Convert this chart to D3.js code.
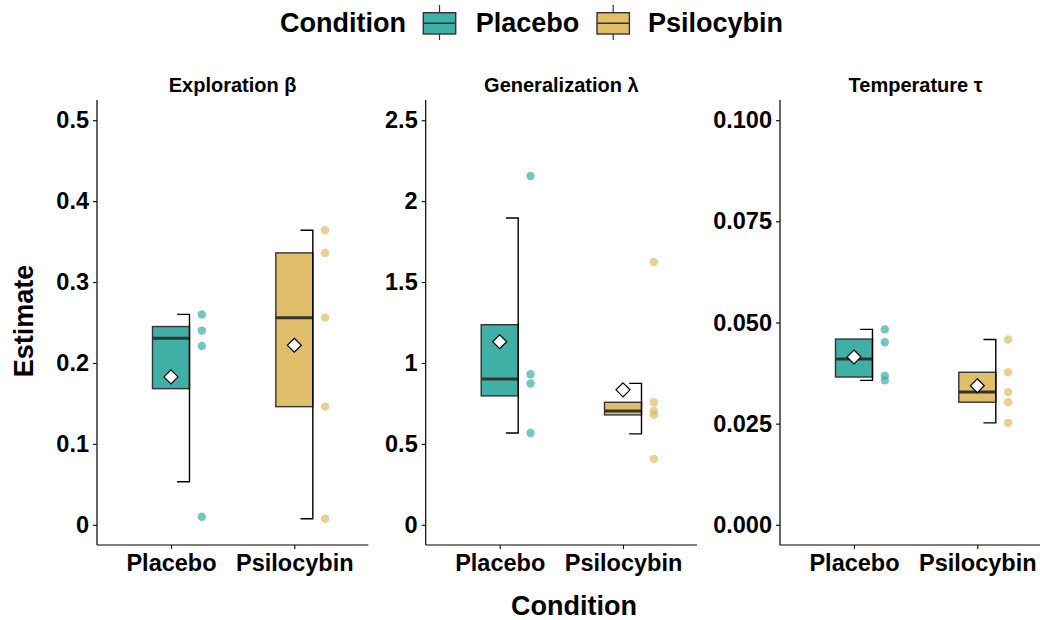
<!DOCTYPE html>
<html>
<head>
<meta charset="utf-8">
<script src="https://cdn.jsdelivr.net/npm/d3@7"></script>
<style>
  html, body { margin: 0; padding: 0; background: #fff; }
  svg { display: block; font-family: "Liberation Sans", Arial, Helvetica, sans-serif; font-weight: bold; }
</style>
</head>
<body>
<svg id="chart" width="1040" height="620"></svg>
<script>
// Model parameter estimates per participant, by condition
const conditions = ["Placebo", "Psilocybin"];
const parameters = ["Exploration \u03B2", "Generalization \u03BB", "Temperature \u03C4"];

const placeboValues = [
  [0.260, 0.240, 0.221, 0.010],
  [2.155, 0.930, 0.873, 0.567],
  [0.0483, 0.0451, 0.0368, 0.0357]
];
const psilocybinValues = [
  [0.364, 0.336, 0.256, 0.146, 0.0074],
  [1.623, 0.757, 0.703, 0.679, 0.4066],
  [0.0458, 0.0377, 0.0328, 0.0303, 0.0252]
];

const yLimits = [[0, 0.5], [0, 2.5], [0, 0.1]];
const yTicks = [
  [0, 0.1, 0.2, 0.3, 0.4, 0.5],
  [0, 0.5, 1, 1.5, 2, 2.5],
  [0, 0.025, 0.05, 0.075, 0.1]
];
const yTickLabels = [
  ["0", "0.1", "0.2", "0.3", "0.4", "0.5"],
  ["0", "0.5", "1", "1.5", "2", "2.5"],
  ["0.000", "0.025", "0.050", "0.075", "0.100"]
];

const fills = { Placebo: "#40B0A6", Psilocybin: "#E1BE6A" };
const outline = "#333333";

const svg = d3.select("#chart");

// Panel geometry
const panelLeft = [97, 425.7, 780];
const panelWidth = 271.3;
const plotTop = 100, plotBottom = 545;

function boxStats(values) {
  const s = values.slice().sort(d3.ascending);
  const q1 = d3.quantile(s, 0.25), med = d3.quantile(s, 0.5), q3 = d3.quantile(s, 0.75);
  const iqr = q3 - q1;
  return {
    q1, med, q3,
    mean: d3.mean(s),
    lo: Math.max(d3.min(s), q1 - 1.5 * iqr),
    hi: Math.min(d3.max(s), q3 + 1.5 * iqr)
  };
}

parameters.forEach((param, p) => {
  const x0 = panelLeft[p];
  const g = svg.append("g");

  // ggplot-style discrete expansion: 0.6 units on each side
  const unit = panelWidth / 2.2;
  const x = d3.scalePoint()
    .domain(conditions)
    .range([x0 + unit * 0.6, x0 + unit * 1.6]);

  const [lo, hi] = yLimits[p];
  const pad = (hi - lo) * 0.05;
  const y = d3.scaleLinear().domain([lo - pad, hi + pad]).range([plotBottom, plotTop]);

  // Y axis
  const yAxis = d3.axisLeft(y)
    .tickValues(yTicks[p])
    .tickFormat((d, i) => yTickLabels[p][i])
    .tickSize(4)
    .tickPadding(4);
  const ya = g.append("g").attr("transform", `translate(${x0},0)`).call(yAxis);
  ya.select(".domain").attr("d", `M0,${plotTop}V${plotBottom}`).attr("stroke", "#000").attr("stroke-width", 1.2);
  ya.selectAll(".tick line").attr("stroke", "#000").attr("stroke-width", 1.1);
  ya.selectAll(".tick text").attr("fill", "#000").style("font-size", "23.5px").style("font-weight", "bold")
    .attr("font-family", null);

  // X axis
  const xAxis = d3.axisBottom(x).tickSize(4).tickPadding(5);
  const xa = g.append("g").attr("transform", `translate(0,${plotBottom})`).call(xAxis);
  xa.select(".domain").attr("d", `M${x0},0H${x0 + panelWidth}`).attr("stroke", "#000").attr("stroke-width", 1.2);
  xa.selectAll(".tick line").attr("stroke", "#000").attr("stroke-width", 1.1);
  xa.selectAll(".tick text").attr("fill", "#000").style("font-size", "23.5px").style("font-weight", "bold")
    .attr("font-family", null);

  // Panel title
  g.append("text")
    .attr("x", x0 + panelWidth / 2)
    .attr("y", 92)
    .attr("text-anchor", "middle")
    .style("font-size", "20px")
    .text(param);

  const series = [
    { cond: "Placebo", vals: placeboValues[p] },
    { cond: "Psilocybin", vals: psilocybinValues[p] }
  ];

  const halfBox = unit * 0.15;
  series.forEach(s => {
    const st = boxStats(s.vals);
    const c = x(s.cond);

    // Box
    g.append("rect")
      .attr("x", c - halfBox)
      .attr("y", y(st.q3))
      .attr("width", halfBox * 2)
      .attr("height", y(st.q1) - y(st.q3))
      .attr("fill", fills[s.cond])
      .attr("stroke", outline)
      .attr("stroke-width", 1.4);
    // Median
    g.append("line")
      .attr("x1", c - halfBox).attr("x2", c + halfBox)
      .attr("y1", y(st.med)).attr("y2", y(st.med))
      .attr("stroke", outline).attr("stroke-width", 3);

    // Whisker bracket on the right edge
    const wx = c + halfBox, capX = c + unit * 0.05;
    g.append("path")
      .attr("d", `M${capX},${y(st.hi)}H${wx}V${y(st.lo)}H${capX}`)
      .attr("fill", "none")
      .attr("stroke", "#000")
      .attr("stroke-width", 1.4);

    // Individual estimates
    g.selectAll(null)
      .data(s.vals)
      .enter()
      .append("circle")
      .attr("cx", c + unit * 0.25)
      .attr("cy", d => y(d))
      .attr("r", 4.2)
      .attr("fill", fills[s.cond])
      .attr("fill-opacity", 0.72);

    // Mean diamond
    const m = y(st.mean);
    g.append("path")
      .attr("d", `M${c},${m - 7}L${c + 7},${m}L${c},${m + 7}L${c - 7},${m}Z`)
      .attr("fill", "#fff")
      .attr("stroke", "#000")
      .attr("stroke-width", 1.2);
  });
});

// Axis titles
svg.append("text")
  .attr("x", 574).attr("y", 615)
  .attr("text-anchor", "middle")
  .style("font-size", "27px")
  .text("Condition");

svg.append("text")
  .attr("transform", "translate(33,321) rotate(-90)")
  .attr("text-anchor", "middle")
  .style("font-size", "27px")
  .text("Estimate");

// Legend
const legend = svg.append("g");
legend.append("text")
  .attr("x", 280).attr("y", 31.5)
  .style("font-size", "27px")
  .text("Condition");

const keyX = [423.3, 597];
const labelX = [475.7, 648];
conditions.forEach((c, i) => {
  const kx = keyX[i], kw = 32.4;
  legend.append("line")
    .attr("x1", kx + kw / 2).attr("x2", kx + kw / 2)
    .attr("y1", 5).attr("y2", 40)
    .attr("stroke", outline).attr("stroke-width", 1.2);
  legend.append("rect")
    .attr("x", kx).attr("y", 12.7)
    .attr("width", kw).attr("height", 21.3)
    .attr("fill", fills[c])
    .attr("stroke", outline).attr("stroke-width", 1.4);
  legend.append("line")
    .attr("x1", kx).attr("x2", kx + kw)
    .attr("y1", 23.3).attr("y2", 23.3)
    .attr("stroke", outline).attr("stroke-width", 1.6);
  legend.append("text")
    .attr("x", labelX[i]).attr("y", 31.5)
    .style("font-size", "27px")
    .text(c);
});
</script>
</body>
</html>
